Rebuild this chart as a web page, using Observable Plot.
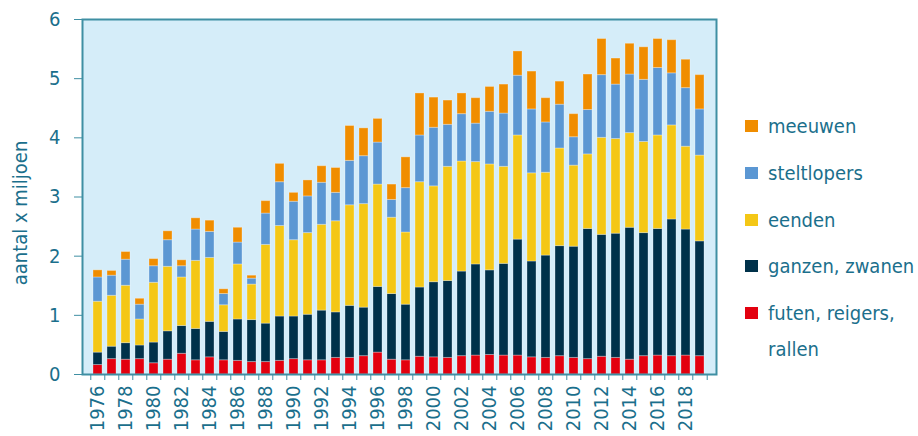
<!DOCTYPE html>
<html>
<head>
<meta charset="utf-8">
<script src="https://cdn.jsdelivr.net/npm/d3@7"></script>
<script src="https://cdn.jsdelivr.net/npm/@observablehq/plot@0.6"></script>
<style>
  body { margin: 0; background: #fff; }
  #wrap { position: relative; width: 918px; height: 436px; overflow: hidden; }
  #legend { position: absolute; left: 0; top: 0; font-family: 'DejaVu Sans Condensed', 'DejaVu Sans', sans-serif; font-size: 20px; color: #1b6f8c; }
  .item { position: absolute; left: 745px; white-space: nowrap; line-height: 36px; }
  .sw { position: absolute; left: 0; top: 12px; width: 13px; height: 12px; }
  .lab { position: absolute; left: 23px; top: 0; }
</style>
</head>
<body>
<div id="wrap"><div id="legend"></div></div>
<script>
const years = d3.range(1976, 2020);
const tickYears = years.filter(y => y % 2 === 0);
const yTicks = [0, 1, 2, 3, 4, 5, 6];

// series, bottom to top (aantal x miljoen)
const seriesNames = ["futen, reigers, rallen", "ganzen, zwanen", "eenden", "steltlopers", "meeuwen"];
const seriesColors = ["#e3000f", "#00314a", "#f4c716", "#5b97d3", "#f08d00"];

const futen = [0.16,0.26,0.25,0.26,0.19,0.25,0.35,0.24,0.29,0.24,0.23,0.21,0.21,0.23,0.26,0.24,0.24,0.28,0.28,0.31,0.37,0.25,0.24,0.30,0.29,0.28,0.31,0.32,0.33,0.32,0.32,0.29,0.28,0.31,0.28,0.26,0.30,0.28,0.25,0.31,0.32,0.31,0.32,0.31];
const ganzen = [0.21,0.21,0.28,0.23,0.35,0.48,0.47,0.53,0.60,0.48,0.70,0.71,0.65,0.75,0.72,0.77,0.84,0.77,0.88,0.82,1.11,1.11,0.94,1.17,1.27,1.30,1.43,1.54,1.43,1.55,1.96,1.62,1.73,1.86,1.88,2.20,2.06,2.10,2.23,2.08,2.14,2.31,2.13,1.94];
const eenden = [0.86,0.86,0.97,0.44,1.01,1.09,0.82,1.15,1.08,0.45,0.93,0.60,1.33,1.53,1.29,1.38,1.45,1.54,1.70,1.75,1.73,1.29,1.22,1.78,1.62,1.93,1.86,1.73,1.79,1.64,1.76,1.49,1.40,1.65,1.37,1.26,1.64,1.60,1.60,1.54,1.58,1.59,1.40,1.45];
const steltlopers = [0.41,0.34,0.44,0.25,0.28,0.45,0.19,0.53,0.44,0.19,0.37,0.10,0.53,0.74,0.65,0.62,0.71,0.48,0.75,0.81,0.71,0.30,0.75,0.79,0.99,0.71,0.80,0.65,0.89,0.90,1.01,1.08,0.85,0.74,0.48,0.75,1.06,0.92,0.99,1.05,1.14,0.88,0.99,0.78];
const meeuwen = [0.12,0.08,0.13,0.10,0.12,0.15,0.10,0.19,0.19,0.08,0.25,0.05,0.21,0.31,0.15,0.27,0.28,0.42,0.59,0.47,0.40,0.26,0.52,0.71,0.51,0.41,0.35,0.43,0.42,0.49,0.41,0.64,0.41,0.39,0.39,0.60,0.61,0.44,0.52,0.55,0.49,0.56,0.48,0.58];

const seriesValues = [futen, ganzen, eenden, steltlopers, meeuwen];
const table = seriesNames.flatMap((name, s) => years.map((year, i) => ({year, series: name, value: seriesValues[s][i]})));

const teal = "#1b6f8c";
const frameColor = "#3f8fa3";
const step = 634 / years.length;

const chart = Plot.plot({
  width: 918,
  height: 436,
  marginLeft: 82,
  marginRight: 202,
  marginTop: 19,
  marginBottom: 62,
  style: {fontFamily: "'DejaVu Sans Condensed', 'DejaVu Sans', sans-serif", fontSize: "20px", color: teal, background: "transparent"},
  x: {type: "band", domain: years, paddingInner: 0.35, paddingOuter: 0.175, align: 0.5},
  y: {domain: [0, 6]},
  color: {domain: seriesNames, range: seriesColors},
  marks: [
    Plot.frame({fill: "#d5edf9", stroke: null}),
    Plot.barY(table, {x: "year", y: "value", fill: "series", stroke: "#ffffff", strokeOpacity: 0.3, strokeWidth: 1}),
    Plot.frame({stroke: frameColor, strokeWidth: 2}),
    Plot.axisY({ticks: yTicks, tickSize: 8, tickPadding: 14, tickFormat: d => String(d), label: null, stroke: frameColor}),
    Plot.axisX({ticks: years, tickSize: 6, tickFormat: () => "", dx: -step / 2, label: null, stroke: frameColor}),
    Plot.axisX({ticks: [years[years.length - 1]], tickSize: 6, tickFormat: () => "", dx: step / 2, label: null, stroke: frameColor}),
    Plot.axisX({ticks: tickYears, tickSize: 0, tickPadding: 11, tickRotate: -90, tickFormat: d => String(d), label: null}),
    Plot.text(["aantal x miljoen"], {frameAnchor: "left", dx: -62, dy: 16, rotate: -90, textAnchor: "middle", fontSize: 20, fill: teal})
  ]
});
document.getElementById("wrap").prepend(chart);

// legend, top to bottom
const legend = document.getElementById("legend");
const legendOrder = [4, 3, 2, 1, 0];
legendOrder.forEach((s, k) => {
  const item = document.createElement("div");
  item.className = "item";
  item.style.top = (108 + k * 46.8) + "px";
  const sw = document.createElement("div");
  sw.className = "sw";
  sw.style.background = seriesColors[s];
  const lab = document.createElement("div");
  lab.className = "lab";
  if (s === 0) {
    lab.innerHTML = "futen, reigers,<br>rallen";
  } else {
    lab.textContent = seriesNames[s];
  }
  item.appendChild(sw);
  item.appendChild(lab);
  legend.appendChild(item);
});
</script>
</body>
</html>
